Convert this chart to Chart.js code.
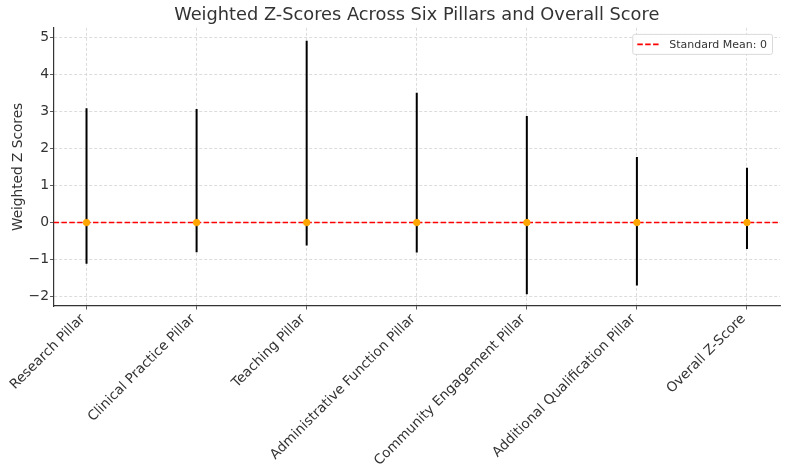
<!DOCTYPE html>
<html>
<head>
<meta charset="utf-8">
<script src="https://cdn.jsdelivr.net/npm/chart.js@4.4.1/dist/chart.umd.min.js"></script>
<style>
  html, body { margin: 0; padding: 0; background: #fff; }
  #wrap { width: 788px; height: 468px; }
</style>
</head>
<body>
<div id="wrap"><canvas id="myChart"></canvas></div>
<script>
const categories = ['Research Pillar', 'Clinical Practice Pillar', 'Teaching Pillar',
    'Administrative Function Pillar', 'Community Engagement Pillar',
    'Additional Qualification Pillar', 'Overall Z-Score'];
const means = [0, 0, 0, 0, 0, 0, 0];
const upper = [3.08, 3.06, 4.90, 3.50, 2.87, 1.77, 1.48];
const lower = [-1.11, -0.80, -0.62, -0.81, -1.93, -1.70, -0.71];
const yTicks = [-2, -1, 0, 1, 2, 3, 4, 5];
const standardMean = 0;
const xLimits = [-0.3, 6.3];
const yLimits = [-2.25, 5.25];

const FONT = "'DejaVu Sans', sans-serif";
const TEXT = '#333333';

// one small line per category for the error bar
const errorBars = categories.map((c, i) => ({
    label: c,
    data: [{x: i, y: lower[i]}, {x: i, y: upper[i]}],
    showLine: true,
    borderColor: '#000000',
    borderWidth: 2,
    pointRadius: 0,
    pointHoverRadius: 0,
    order: 3
}));

const meanLine = {
    label: 'Standard Mean: ' + standardMean,
    data: [{x: xLimits[0], y: standardMean}, {x: xLimits[1], y: standardMean}],
    showLine: true,
    borderColor: '#ff0000',
    borderWidth: 1.6,
    borderDash: [5.5, 2.4],
    pointRadius: 0,
    order: 2
};

const meanPoints = {
    label: 'Mean',
    data: means.map((m, i) => ({x: i, y: m})),
    backgroundColor: '#ffa500',
    borderColor: '#ffa500',
    pointRadius: 3.2,
    order: 1
};

// matplotlib-style legend box inside the plot
const legendBox = {
    id: 'legendBox',
    afterDatasetsDraw(chart) {
        const {ctx, chartArea} = chart;
        const text = meanLine.label;
        ctx.save();
        ctx.font = '11px ' + FONT;
        const w = ctx.measureText(text).width + 42;
        const h = 20;
        const x = chartArea.right - 8 - w;
        const y = chartArea.top + 6;
        ctx.fillStyle = 'rgba(255,255,255,0.9)';
        ctx.strokeStyle = '#d9d9d9';
        ctx.lineWidth = 1;
        ctx.beginPath();
        ctx.roundRect(x + 0.5, y + 0.5, w, h, 2);
        ctx.fill();
        ctx.stroke();
        ctx.strokeStyle = '#ff0000';
        ctx.lineWidth = 1.6;
        ctx.setLineDash([5.5, 2.4]);
        ctx.beginPath();
        ctx.moveTo(x + 5, y + h / 2 + 0.5);
        ctx.lineTo(x + 28, y + h / 2 + 0.5);
        ctx.stroke();
        ctx.setLineDash([]);
        ctx.fillStyle = TEXT;
        ctx.textBaseline = 'middle';
        ctx.fillText(text, x + 37, y + h / 2 + 1);
        ctx.restore();
    }
};

new Chart(document.getElementById('myChart'), {
    type: 'scatter',
    data: {
        datasets: [...errorBars, meanLine, meanPoints]
    },
    options: {
        responsive: true,
        maintainAspectRatio: false,
        animation: false,
        layout: {
            padding: {left: 0, right: 8, top: 0, bottom: 0}
        },
        plugins: {
            legend: {display: false},
            tooltip: {enabled: false},
            title: {
                display: true,
                fullSize: false,
                text: 'Weighted Z-Scores Across Six Pillars and Overall Score',
                color: TEXT,
                font: {size: 17.8, family: FONT, weight: 'normal'},
                padding: {top: 4.5, bottom: 2}
            }
        },
        scales: {
            x: {
                type: 'linear',
                min: xLimits[0],
                max: xLimits[1],
                afterFit: (scale) => { scale.height = 162; },
                ticks: {
                    stepSize: 1,
                    includeBounds: false,
                    autoSkip: false,
                    maxRotation: 45,
                    minRotation: 45,
                    labelOffset: -3.5,
                    padding: 1.5,
                    color: TEXT,
                    font: {size: 13.6, family: FONT},
                    callback: (v) => Number.isInteger(v) ? categories[v] : ''
                },
                grid: {
                    color: '#d3d3d3',
                    lineWidth: 0.8,
                    tickColor: TEXT,
                    tickLength: 3.5,
                    tickBorderDash: []
                },
                border: {display: true, color: TEXT, width: 1.2, dash: [3, 2]}
            },
            y: {
                min: yLimits[0],
                max: yLimits[1],
                afterFit: (scale) => { scale.width = 53.5; },
                afterBuildTicks: (axis) => { axis.ticks = yTicks.map(v => ({value: v})); },
                ticks: {
                    color: TEXT,
                    font: {size: 13.9, family: FONT},
                    padding: 1,
                    callback: (v) => String(v).replace('-', '\u2212')
                },
                title: {
                    display: true,
                    text: 'Weighted Z Scores',
                    color: TEXT,
                    font: {size: 13.7, family: FONT},
                    padding: {top: 10, bottom: 4}
                },
                grid: {
                    color: '#d3d3d3',
                    lineWidth: 0.8,
                    tickColor: TEXT,
                    tickLength: 3.5,
                    tickBorderDash: []
                },
                border: {display: true, color: TEXT, width: 1.2, dash: [3, 2]}
            }
        }
    },
    plugins: [legendBox]
});
</script>
</body>
</html>
